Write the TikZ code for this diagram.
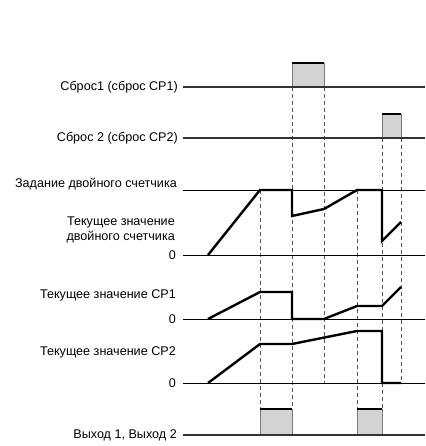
\documentclass[tikz,border=0pt]{standalone}
\usepackage{fontspec}
\setmainfont{Liberation Sans}
\definecolor{pulsefill}{HTML}{D3D3D3}
\definecolor{pulseedge}{HTML}{7A7A7A}
\definecolor{axisgray}{HTML}{333333}
\definecolor{guidegray}{HTML}{555555}
\begin{document}
\begin{tikzpicture}[x=1pt,y=-1pt,
  lbl/.style={anchor=east,font=\fontsize{12.6}{15}\selectfont,inner sep=0pt,align=right},
  baseline line/.style={draw=axisgray,line width=1.2pt},
  thin line/.style={draw=black,line width=0.9pt},
  signal/.style={draw=black,line width=2.4pt,line join=miter},
  guide/.style={draw=guidegray,line width=0.9pt,dash pattern=on 4pt off 3pt},
  pulse/.style={fill=pulsefill,draw=pulseedge,line width=0.9pt},
  pulsetop/.style={draw=black,line width=2.2pt}]
\useasboundingbox (0,0) rectangle (425,446);
% guides
\draw[guide] (260,190) -- (260,409);
\draw[guide] (292,87) -- (292,409);
\draw[guide] (324,87) -- (324,383);
\draw[guide] (357,190) -- (357,409);
\draw[guide] (382,138) -- (382,409);
\draw[guide] (401,138) -- (401,383);
% reset 1
\node[lbl] (r1) at (178,87) {Сброс1 (сброс CP1)};
\draw[pulse] (292,87) rectangle (324,63);
\draw[pulsetop] (292,63) -- (324,63);
\draw[baseline line] (183,87) -- (425,87);
% reset 2
\node[lbl] (r2) at (178,138) {Сброс 2 (сброс CP2)};
\draw[pulse] (382,138) rectangle (401,114);
\draw[pulsetop] (382,114) -- (401,114);
\draw[baseline line] (183,138) -- (425,138);
% dual counter
\node[lbl] (sp) at (177,184) {Задание двойного счетчика};
\node[lbl] (pv) at (175,230) {Текущее значение\\двойного счетчика};
\node[lbl] (z1) at (176,255) {0};
\draw[thin line] (183,190) -- (425,190);
\draw[thin line] (183,255) -- (425,255);
\draw[signal] (208,255) -- (260,190) -- (292,190) -- (292,216) -- (324,209) -- (357,190) -- (382,190) -- (382,241) -- (401,222);
% CP1
\node[lbl] (c1) at (176,295) {Текущее значение CP1};
\node[lbl] (z2) at (176,319) {0};
\draw[thin line] (183,319) -- (425,319);
\draw[signal] (208,319) -- (260,292) -- (292,292) -- (292,319) -- (324,319) -- (357,306) -- (382,306) -- (401,287);
% CP2
\node[lbl] (c2) at (176,352) {Текущее значение CP2};
\node[lbl] (z3) at (176,383) {0};
\draw[thin line] (183,383) -- (425,383);
\draw[signal] (208,383) -- (260,344) -- (292,344) -- (357,331) -- (382,331) -- (382,383) -- (401,383);
% output
\node[lbl] (out) at (177,435) {Выход 1, Выход 2};
\draw[pulse] (260,435) rectangle (292,409);
\draw[pulsetop] (260,409) -- (292,409);
\draw[pulse] (357,435) rectangle (382,409);
\draw[pulsetop] (357,409) -- (382,409);
\draw[baseline line] (183,435) -- (425,435);
\end{tikzpicture}
\end{document}
